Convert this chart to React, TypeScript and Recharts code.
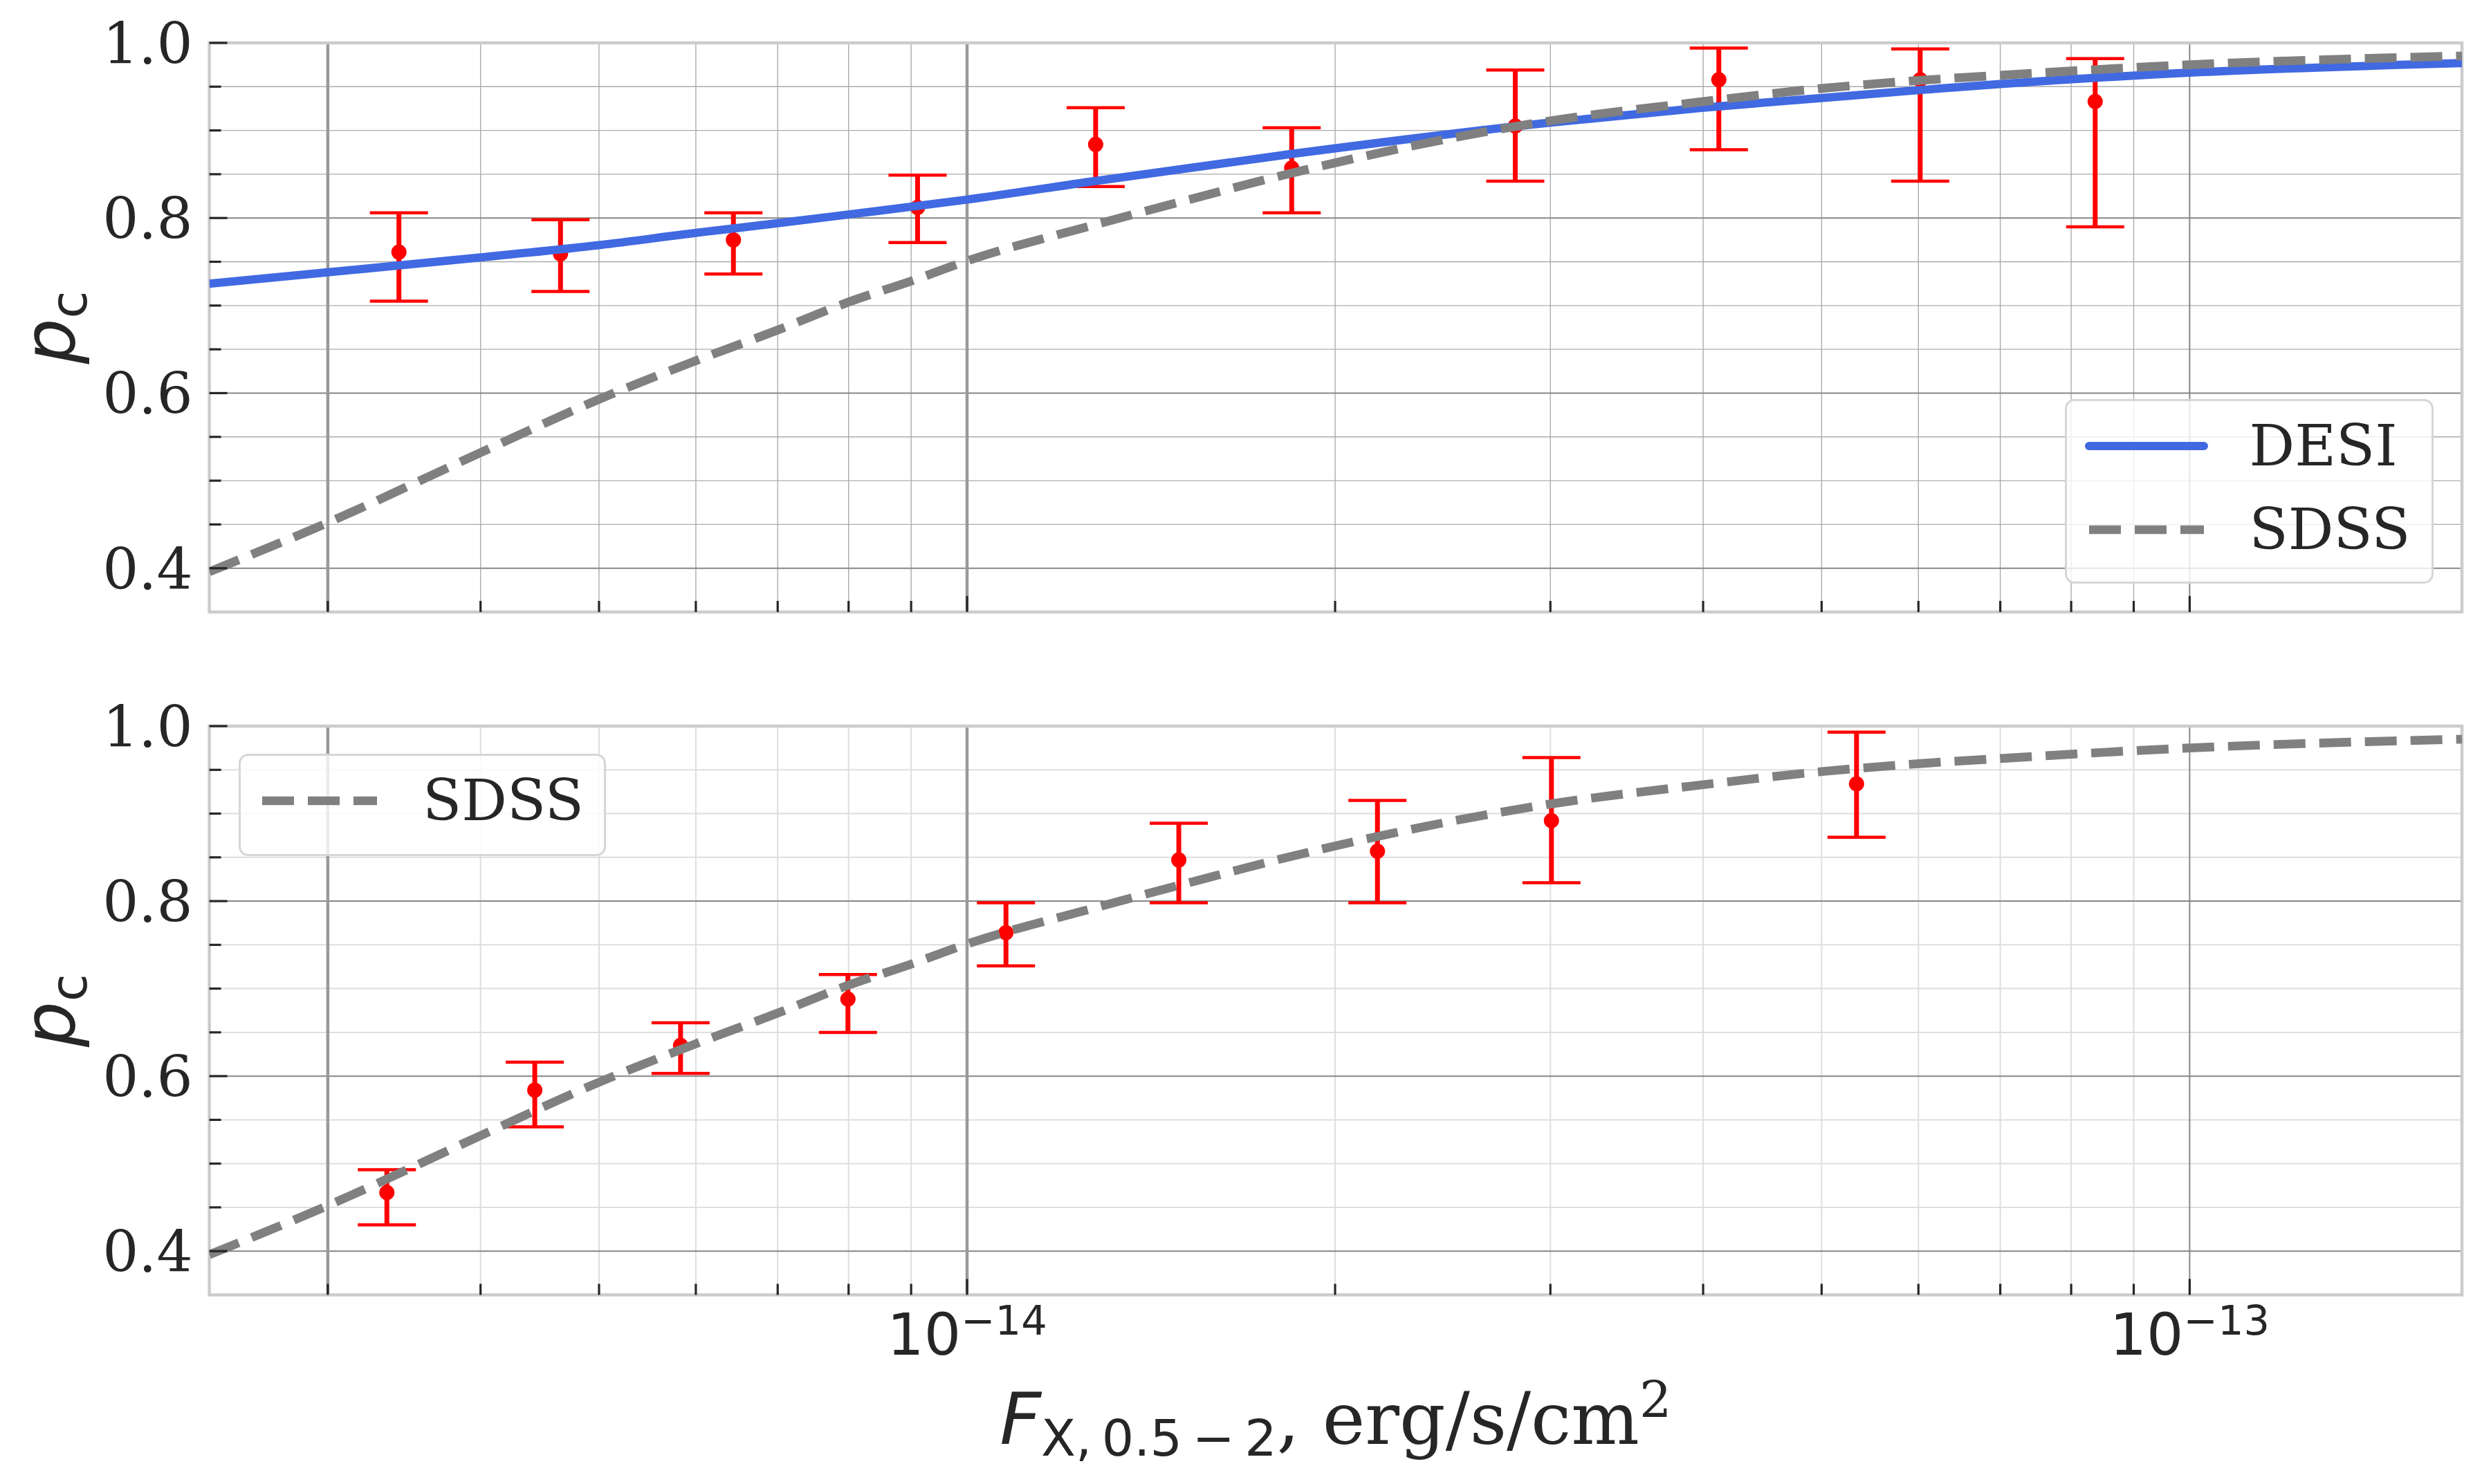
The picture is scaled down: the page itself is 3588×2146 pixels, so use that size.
import {
  ComposedChart,
  Line,
  Scatter,
  ErrorBar,
  XAxis,
  YAxis,
  CartesianGrid,
  ReferenceArea,
  Legend,
} from "recharts";

const WIDTH = 3588;
const INK = "#262626";

// axes
const X_DOMAIN = [2.4e-15, 1.67e-13];
const Y_DOMAIN = [0.35, 1.0];
const X_MAJOR = [1e-14, 1e-13];
const X_MINOR = [3e-15, 4e-15, 5e-15, 6e-15, 7e-15, 8e-15, 9e-15, 2e-14, 3e-14, 4e-14, 5e-14, 6e-14, 7e-14, 8e-14, 9e-14];
const X_MARKED = [3e-15, 1e-14];
const Y_MAJOR = [0.4, 0.6, 0.8, 1.0];
const Y_MINOR = [0.45, 0.5, 0.55, 0.65, 0.7, 0.75, 0.85, 0.9, 0.95];

// model curves
const DESI_F = [2.4e-15, 3e-15, 4e-15, 5e-15, 6e-15, 7e-15, 8e-15, 1e-14, 1.27e-14, 1.84e-14, 3e-14, 4e-14, 5e-14, 6e-14, 7e-14, 1e-13, 1.67e-13];
const DESI_P = [0.725, 0.738, 0.755, 0.769, 0.783, 0.794, 0.804, 0.821, 0.842, 0.873, 0.909, 0.926, 0.937, 0.946, 0.953, 0.966, 0.977];
const SDSS_F = [2.4e-15, 3e-15, 4e-15, 5e-15, 6e-15, 7e-15, 8e-15, 9e-15, 1e-14, 1.27e-14, 1.5e-14, 1.84e-14, 2e-14, 3e-14, 4e-14, 5e-14, 6e-14, 7e-14, 1e-13, 1.67e-13];
const SDSS_P = [0.396, 0.452, 0.532, 0.593, 0.637, 0.672, 0.704, 0.728, 0.751, 0.792, 0.819, 0.851, 0.863, 0.911, 0.933, 0.948, 0.957, 0.963, 0.975, 0.985];

// binned measurements, top panel
const TOP_F = [3.43e-15, 4.65e-15, 6.44e-15, 9.11e-15, 1.274e-14, 1.843e-14, 2.808e-14, 4.12e-14, 6.02e-14, 8.37e-14];
const TOP_P = [0.761, 0.759, 0.775, 0.812, 0.884, 0.857, 0.905, 0.958, 0.958, 0.933];
const TOP_LO = [0.705, 0.716, 0.736, 0.772, 0.836, 0.806, 0.842, 0.878, 0.842, 0.79];
const TOP_HI = [0.806, 0.798, 0.806, 0.849, 0.926, 0.903, 0.969, 0.994, 0.993, 0.982];

// binned measurements, bottom panel
const BOT_F = [3.353e-15, 4.43e-15, 5.83e-15, 7.99e-15, 1.076e-14, 1.49e-14, 2.166e-14, 3.006e-14, 5.34e-14];
const BOT_P = [0.467, 0.584, 0.635, 0.688, 0.764, 0.847, 0.857, 0.892, 0.934];
const BOT_LO = [0.43, 0.542, 0.603, 0.65, 0.726, 0.798, 0.798, 0.821, 0.873];
const BOT_HI = [0.493, 0.616, 0.661, 0.716, 0.798, 0.889, 0.915, 0.964, 0.993];

const X_TICKS = [...X_MINOR, ...X_MAJOR].sort((a, b) => a - b);
const Y_TICKS = [...Y_MINOR, ...Y_MAJOR].sort((a, b) => a - b);

const curve = (f: number[], p: number[]) => f.map((v, i) => ({ f: v, p: p[i] }));
const bins = (f: number[], p: number[], lo: number[], hi: number[]) =>
  f.map((v, i) => ({ f: v, p: p[i], err: [p[i] - lo[i], hi[i] - p[i]] }));

const DESI = { name: "DESI", data: curve(DESI_F, DESI_P), stroke: "#4169e1", width: 12, dash: undefined };
const SDSS = { name: "SDSS", data: curve(SDSS_F, SDSS_P), stroke: "#808080", width: 12.7, dash: "46 20" };

function XTick({ x, y, payload, showLabels }: any) {
  const v = payload.value;
  const major = X_MAJOR.includes(v);
  const exp = Math.round(Math.log10(v));
  return (
    <g>
      <line x1={x} x2={x} y1={y} y2={y - (major ? 23 : 16)} stroke={INK} strokeWidth={3.2} />
      {showLabels && major && (
        <text x={x} y={y + 86} textAnchor="middle" fontFamily="DejaVu Sans" fontSize={84} fill={INK}>
          10
          <tspan fontSize={59} dy={-29}>{"\u2212" + Math.abs(exp)}</tspan>
        </text>
      )}
    </g>
  );
}

function YTick({ x, y, payload }: any) {
  const v = payload.value;
  const major = Y_MAJOR.includes(v);
  return (
    <g>
      <line x1={x} x2={x + (major ? 26 : 17)} y1={y} y2={y} stroke={INK} strokeWidth={3.2} />
      {major && (
        <text x={x - 24} y={y + 30} textAnchor="end" fontFamily="DejaVu Serif" fontSize={82} fill={INK}>
          {v.toFixed(1)}
        </text>
      )}
    </g>
  );
}

function YTitle({ viewBox }: any) {
  const bx = viewBox.x + 108;
  const cy = viewBox.y + viewBox.height / 2;
  return (
    <text
      x={bx}
      y={cy}
      transform={`rotate(-90 ${bx} ${cy})`}
      textAnchor="middle"
      fontFamily="DejaVu Sans"
      fontSize={104}
      fill={INK}
    >
      <tspan fontStyle="italic">p</tspan>
      <tspan fontSize={73} dy={17}>c</tspan>
    </text>
  );
}

function XTitle({ viewBox }: any) {
  return (
    <text
      x={viewBox.x + viewBox.width / 2}
      y={viewBox.y + 215}
      textAnchor="middle"
      fontFamily="DejaVu Serif"
      fontSize={104}
      fill={INK}
    >
      <tspan fontFamily="DejaVu Sans" fontStyle="italic">F</tspan>
      <tspan fontFamily="DejaVu Sans" fontSize={73} dy={17}>{"X,\u20090.5\u2009\u2212\u20092"}</tspan>
      <tspan dy={-17}>, erg/s/cm</tspan>
      <tspan fontSize={73} dy={-38}>2</tspan>
    </text>
  );
}

function RedDot({ cx, cy }: any) {
  return <circle cx={cx} cy={cy} r={11} fill="#ff0000" />;
}

// only the model curves go in the legend
function LegendBox({ payload, names }: any) {
  const items = (payload ?? []).filter((e: any) => names.includes(e.value));
  return (
    <div
      style={{
        boxSizing: "border-box",
        width: "100%",
        height: "100%",
        border: "3px solid #d6d6d6",
        borderRadius: 14,
        background: "rgba(255,255,255,0.8)",
        paddingTop: 4.5,
      }}
    >
      {items.map((e: any) => {
        const dash = e.payload?.strokeDasharray;
        return (
          <div key={e.value} style={{ display: "flex", alignItems: "center", height: 121, paddingLeft: 31.5 }}>
            <svg width={166} height={24} style={{ marginRight: 66, overflow: "visible" }}>
              <line
                x1={0}
                x2={166}
                y1={12}
                y2={12}
                stroke={e.color}
                strokeWidth={e.payload?.strokeWidth ?? 12}
                strokeDasharray={dash}
                strokeLinecap={dash ? "butt" : "round"}
              />
            </svg>
            <span style={{ fontFamily: "DejaVu Serif", fontSize: 82, color: INK, lineHeight: 1 }}>{e.value}</span>
          </div>
        );
      })}
    </div>
  );
}

interface PanelProps {
  top: number;
  height: number;
  marginTop: number;
  axisHeight: number;
  points: { f: number; p: number; err: number[] }[];
  curves: typeof DESI[];
  showXLabels: boolean;
  minorStroke: string;
  minorWidth: number;
  legend: { left: number; top: number; width: number; height: number };
}

function Panel({ top, height, marginTop, axisHeight, points, curves, showXLabels, minorStroke, minorWidth, legend }: PanelProps) {
  return (
    <div style={{ position: "absolute", left: 0, top }}>
      <ComposedChart width={WIDTH} height={height} margin={{ top: marginTop, right: 29, bottom: 0, left: 0 }}>
        <CartesianGrid horizontalValues={Y_MINOR} verticalValues={X_MINOR} stroke={minorStroke} strokeWidth={minorWidth} />
        <CartesianGrid horizontalValues={Y_MAJOR} verticalValues={X_MAJOR} stroke="#868686" strokeWidth={2} />
        <CartesianGrid horizontal={false} verticalValues={X_MARKED} stroke="#999999" strokeWidth={4.5} />
        <XAxis
          dataKey="f"
          type="number"
          scale="log"
          domain={X_DOMAIN}
          allowDataOverflow
          ticks={X_TICKS}
          interval={0}
          height={axisHeight}
          axisLine={false}
          tickLine={false}
          tickSize={0}
          tickMargin={0}
          tick={<XTick showLabels={showXLabels} />}
          label={showXLabels ? <XTitle /> : undefined}
        />
        <YAxis
          type="number"
          domain={Y_DOMAIN}
          allowDataOverflow
          ticks={Y_TICKS}
          interval={0}
          width={302.6}
          axisLine={false}
          tickLine={false}
          tickSize={0}
          tickMargin={0}
          tick={<YTick />}
          label={<YTitle />}
        />
        <Scatter data={points} dataKey="p" fill="#ff0000" shape={<RedDot />} legendType="none" isAnimationActive={false}>
          {/* caps are thinner than the bar itself */}
          <ErrorBar dataKey="err" direction="y" width={42} strokeWidth={4.5} stroke="#ff0000" isAnimationActive={false} />
          <ErrorBar dataKey="err" direction="y" width={0} strokeWidth={7} stroke="#ff0000" isAnimationActive={false} />
        </Scatter>
        {curves.map((c) => (
          <Line
            key={c.name}
            name={c.name}
            data={c.data}
            dataKey="p"
            type="monotone"
            stroke={c.stroke}
            strokeWidth={c.width}
            strokeDasharray={c.dash}
            dot={false}
            activeDot={false}
            legendType="line"
            zIndex={650}
            isAnimationActive={false}
          />
        ))}
        <ReferenceArea
          x1={X_DOMAIN[0]}
          x2={X_DOMAIN[1]}
          y1={Y_DOMAIN[0]}
          y2={Y_DOMAIN[1]}
          fill="none"
          stroke="#cccccc"
          strokeWidth={4.5}
          ifOverflow="visible"
        />
        <Legend
          layout="vertical"
          align="center"
          verticalAlign="middle"
          width={legend.width}
          height={legend.height}
          wrapperStyle={{ left: legend.left, top: legend.top, width: legend.width, height: legend.height }}
          content={<LegendBox names={curves.map((c) => c.name)} />}
        />
      </ComposedChart>
    </div>
  );
}

export default function App() {
  return (
    <div style={{ position: "absolute", left: 0, top: 0, width: WIDTH, height: 2146, background: "#fff" }}>
      <Panel
        top={0}
        height={960}
        marginTop={62}
        axisHeight={75}
        points={bins(TOP_F, TOP_P, TOP_LO, TOP_HI)}
        curves={[DESI, SDSS]}
        showXLabels={false}
        minorStroke="#ababab"
        minorWidth={1.4}
        legend={{ left: 2985, top: 577, width: 533, height: 267 }}
      />
      <Panel
        top={960}
        height={1186}
        marginTop={90}
        axisHeight={273.5}
        points={bins(BOT_F, BOT_P, BOT_LO, BOT_HI)}
        curves={[SDSS]}
        showXLabels={true}
        minorStroke="#dedede"
        minorWidth={2}
        legend={{ left: 344.5, top: 130.4, width: 531, height: 148 }}
      />
    </div>
  );
}
